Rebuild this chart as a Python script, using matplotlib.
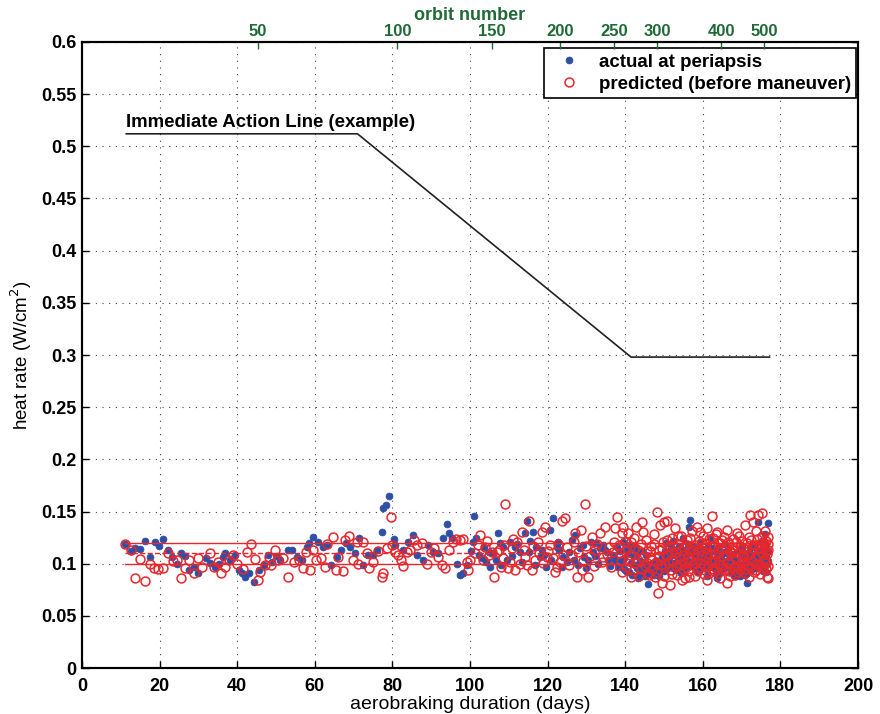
import matplotlib
matplotlib.use('Agg')
import matplotlib.pyplot as plt
import numpy as np

plt.rcParams['font.family'] = ['Liberation Sans', 'DejaVu Sans']

# actual heat rate at periapsis (day, W/cm2)
actual_early = [
    (11.2, .1186), (12.6, .1125), (13.7, .1154), (15.0, .114), (16.3, .1218), (17.4, .106),
    (18.7, .121), (19.8, .117), (21.0, .1234), (22.2, .113), (23.2, .1067), (24.5, .100),
    (25.5, .1105), (26.6, .1074), (27.7, .094), (28.8, .097), (29.8, .0908), (32.0, .105),
    (33.1, .101), (34.2, .097), (35.2, .100), (36.3, .106), (36.9, .1105), (38.2, .1035),
    (39.4, .108), (40.4, .094), (41.2, .0908), (42.1, .0876), (43.0, .0908), (44.4, .0828),
    (45.5, .094), (46.8, .0988), (47.9, .108), (49.0, .102), (50.3, .107), (51.1, .1035),
]
actual_mid = [
    (53.2, .113), (54.0, .113), (55.3, .1067), (56.6, .1035), (57.9, .1163), (58.6, .1195),
    (59.5, .126), (60.9, .121), (62.0, .1163), (63.1, .118), (64.3, .0988), (65.6, .1067),
    (66.8, .113), (68.0, .1195), (69.1, .1163), (70.4, .1105), (71.5, .1243), (72.5, .0988),
    (73.8, .108), (75.1, .108), (76.0, .113), (77.2, .1307), (77.7, .153), (78.4, .156),
    (79.0, .165), (80.3, .1234), (80.7, .118), (82.8, .113), (84.0, .121), (85.2, .1275),
    (86.3, .108), (88.0, .104), (89.3, .118), (90.5, .1115), (91.8, .110), (93.0, .1243),
    (94.0, .1378), (94.6, .1297), (95.3, .1243), (96.6, .100), (97.4, .089), (98.3, .0908),
    (99.2, .0988),
    (100.9, .121), (101.0, .1457), (101.5, .1243), (103.0, .105), (104.1, .102), (105.2, .097),
    (106.0, .110), (107.3, .1297), (107.7, .1195), (108.6, .1163), (109.5, .1035), (110.3, .121),
    (111.6, .1163), (112.9, .1115), (114.2, .129), (114.6, .141), (115.5, .122), (116.2, .1307),
    (117.0, .1163), (118.0, .1067), (119.6, .097), (120.6, .1323), (121.5, .1435), (122.3, .1163),
    (123.0, .113), (124.0, .1067), (124.9, .102), (126.2, .1227), (127.1, .1275), (128.4, .1148),
    (129.4, .1067), (130.5, .1035), (131.6, .1115), (132.6, .1195), (133.5, .1148), (134.8, .113),
    (135.6, .1035), (136.8, .108), (137.8, .1163), (138.2, .097),
    (100.3, .112), (102.4, .108), (103.6, .116), (104.8, .111), (106.6, .104), (108.1, .099),
    (110.8, .107), (112.2, .119), (113.5, .102), (115.1, .111), (116.7, .099), (118.6, .113),
    (119.1, .108), (121.0, .104), (122.7, .121), (123.6, .097), (125.6, .111), (126.7, .104),
    (127.9, .099), (129.0, .118), (130.0, .096), (131.1, .121), (132.1, .107), (133.0, .100),
    (134.2, .118), (135.2, .111), (136.2, .098), (137.3, .104),
]
actual_late = [
    (138.6, .112), (139.0, .098), (139.4, .121), (139.8, .105), (140.2, .093), (140.6, .110),
    (141.0, .118), (141.4, .101), (141.8, .089), (142.2, .107), (142.6, .115), (143.0, .096),
    (143.4, .086), (143.8, .103), (144.2, .112), (144.6, .094), (145.0, .099), (145.4, .108),
    (145.9, .081), (146.2, .097), (146.6, .095), (147.0, .101), (147.3, .094), (147.7, .098),
    (148.0, .092), (148.4, .103), (148.8, .096), (149.1, .099), (149.5, .106), (149.9, .093),
    (150.2, .112), (150.6, .120), (151.0, .104), (151.3, .097), (151.7, .115), (152.0, .108),
    (152.4, .122), (152.7, .101), (153.1, .094), (153.4, .110), (153.8, .117), (154.1, .099),
    (154.5, .106), (154.8, .125), (155.2, .113), (155.5, .096), (155.9, .104), (156.2, .119),
    (156.5, .1355), (156.7, .142), (157.0, .111), (157.3, .102), (157.7, .097), (158.0, .108),
    (158.3, .115), (158.7, .092), (159.0, .104), (159.3, .121), (159.7, .110), (160.0, .099),
    (160.3, .106), (160.6, .113), (161.0, .095), (161.3, .118), (161.6, .108), (161.9, .1243),
    (162.2, .101), (162.5, .097), (162.8, .112), (163.1, .104), (163.4, .093), (163.6, .086),
    (163.9, .109), (164.2, .116), (164.5, .100), (164.8, .107), (165.1, .095), (165.4, .111),
    (165.7, .119), (166.0, .103), (166.3, .098), (166.6, .114), (166.9, .106), (167.2, .092),
    (167.5, .101), (167.8, .109), (168.1, .096), (168.4, .088), (168.7, .104), (169.0, .112),
    (169.3, .098), (169.6, .093), (169.9, .107), (170.2, .115), (170.5, .100), (170.8, .089),
    (171.1, .097), (171.3, .0812), (171.6, .105), (171.9, .111), (172.2, .099), (172.5, .094),
    (172.8, .108), (173.1, .118), (173.4, .102), (173.7, .096), (174.0, .113), (174.3, .140),
    (174.6, .109), (174.9, .121), (175.2, .104), (175.5, .098), (175.8, .116), (176.1, .128),
    (176.4, .107), (176.7, .112), (176.9, .1387), (176.5, .101), (176.2, .092),
    (138.9, .104), (139.6, .095), (140.4, .114), (141.1, .092), (141.9, .117), (142.4, .099),
    (143.1, .109), (143.7, .091), (144.4, .102), (145.2, .088), (145.7, .093), (146.4, .090),
    (146.9, .099), (147.5, .089), (148.2, .097), (148.6, .088), (149.3, .094), (149.7, .101),
    (150.4, .096), (150.9, .109), (151.5, .102), (152.2, .096), (152.9, .113), (153.6, .104),
    (154.3, .091), (155.0, .101), (155.7, .109), (156.4, .098), (157.2, .117), (157.9, .100),
    (158.5, .106), (159.2, .095), (159.9, .114), (160.5, .101), (161.2, .088), (161.8, .104),
    (162.4, .115), (163.0, .098), (163.7, .105), (164.3, .091), (165.0, .102), (165.6, .097),
    (166.2, .110), (166.8, .099), (167.4, .095), (168.0, .103), (168.6, .093), (169.1, .100),
    (169.7, .088), (170.3, .094), (170.9, .105), (171.5, .091), (172.1, .102), (172.6, .116),
    (173.2, .097), (173.8, .106), (174.4, .099), (175.0, .111), (175.6, .093), (176.3, .118),
    (176.8, .103),
]

# predicted heat rate before maneuver (day, W/cm2)
predicted_early = [
    (11.2, .119), (12.6, .113), (13.7, .0866), (15.0, .1045), (16.3, .0834), (17.6, .100),
    (18.5, .0956), (19.6, .0946), (20.9, .0956), (22.2, .110), (23.4, .1026), (24.5, .1035),
    (25.5, .0866), (26.6, .0956), (27.7, .104), (28.8, .0908), (29.9, .105), (30.9, .0965),
    (32.9, .1105), (34.0, .0965), (35.1, .102), (35.9, .0914), (36.9, .0965), (37.8, .1035),
    (38.9, .108), (39.9, .100), (41.5, .0946), (42.5, .1115), (43.6, .1186), (44.5, .1045),
    (45.3, .0844), (46.0, .0923), (47.1, .0988), (48.1, .1067), (48.8, .0988), (49.7, .113),
    (50.5, .1035),
]
predicted_mid = [
    (51.9, .105), (53.2, .0876), (54.6, .102), (55.8, .1035), (56.9, .0956), (57.7, .1115),
    (58.8, .094), (59.6, .113), (60.3, .1035), (61.6, .105), (62.5, .0965), (63.2, .119),
    (64.6, .126), (65.5, .094), (66.1, .1067), (67.3, .093), (67.8, .1227), (68.8, .1266),
    (69.8, .1035), (70.8, .121), (71.2, .100), (72.3, .121), (73.4, .1105), (74.0, .0956),
    (75.1, .102), (76.2, .1125), (77.2, .0876), (77.7, .0914), (78.5, .1148), (79.6, .1445),
    (79.8, .118), (80.7, .1115), (81.5, .108), (82.2, .1035), (82.8, .098), (83.7, .1115),
    (84.5, .113), (85.6, .1227), (86.4, .118), (87.5, .1195), (88.8, .100), (90.0, .1115),
    (90.8, .1148), (91.8, .1067), (92.7, .0988), (93.6, .0956), (94.7, .113), (95.7, .121),
    (96.4, .1234), (97.4, .1227), (98.3, .1234), (99.3, .102),
    (99.6, .094), (100.0, .1035), (102.1, .118), (102.6, .1275), (103.9, .1163), (105.0, .108),
    (105.6, .1115), (106.3, .0876), (106.9, .1115), (107.9, .097), (108.4, .105), (109.0, .157),
    (109.9, .0956), (110.8, .1148), (111.6, .094), (112.2, .121), (112.9, .100), (113.3, .1307),
    (114.2, .1067), (115.3, .1405), (115.9, .094), (116.8, .1035), (117.4, .121), (118.5, .1307),
    (119.3, .1355), (119.9, .1067), (120.6, .118), (121.9, .0923), (122.3, .097), (123.2, .102),
    (123.6, .141), (124.5, .1435), (125.1, .1163), (126.2, .108), (127.1, .129), (127.5, .0876),
    (128.5, .1323), (128.8, .094), (129.6, .157), (130.5, .0876), (131.4, .126), (132.2, .113),
    (133.5, .129), (134.2, .1067), (134.8, .1355), (135.9, .1163), (136.9, .1115), (137.4, .134),
    (137.8, .145),
    (101.2, .110), (103.3, .104), (104.5, .122), (107.4, .113), (108.8, .118), (110.3, .102),
    (111.2, .124), (113.8, .113), (114.7, .099), (116.3, .117), (117.8, .110), (118.9, .101),
    (120.2, .112), (121.3, .105), (122.8, .119), (124.0, .108), (125.6, .099), (126.7, .121),
    (127.9, .111), (129.2, .103), (130.0, .117), (130.9, .107), (131.9, .098), (132.8, .119),
    (133.9, .102), (135.3, .109), (136.4, .097), (137.0, .121),
]
predicted_late = [
    (138.4, .118), (138.8, .103), (139.1, .129), (139.5, .1355), (139.9, .112), (140.3, .097),
    (140.8, .129), (141.2, .108), (141.6, .121), (142.0, .093), (142.4, .115), (142.8, .1355),
    (143.2, .104), (143.6, .088), (144.0, .119), (144.2, .140), (144.7, .1307), (145.1, .098),
    (145.5, .112), (145.9, .091), (146.3, .106), (146.7, .117), (147.0, .095), (147.3, .1285),
    (147.7, .087), (148.0, .102), (148.3, .150), (148.5, .0716), (148.8, .113), (149.0, .137),
    (149.4, .0812), (149.7, .121), (149.9, .140), (150.2, .099), (150.5, .108), (150.9, .141),
    (151.2, .117), (151.5, .0796), (151.8, .094), (152.1, .125), (152.4, .103), (152.8, .134),
    (153.1, .111), (153.4, .089), (153.7, .119), (154.0, .100), (154.3, .127), (154.6, .0844),
    (154.9, .108), (155.2, .116), (155.4, .086), (155.7, .097), (156.0, .123), (156.3, .105),
    (156.5, .0876), (156.8, .114), (157.1, .131), (157.4, .099), (157.7, .109), (158.0, .118),
    (158.4, .1355), (158.7, .093), (159.0, .112), (159.3, .1307), (159.6, .101), (159.9, .120),
    (160.2, .090), (160.5, .115), (160.8, .106), (161.0, .134), (161.0, .0844), (161.3, .098),
    (161.6, .124), (161.9, .109), (162.3, .1457), (162.5, .095), (162.8, .117), (163.1, .103),
    (163.4, .128), (163.6, .1307), (163.9, .091), (164.2, .111), (164.5, .120), (164.8, .099),
    (165.1, .107), (165.4, .126), (165.7, .094), (166.0, .115), (166.2, .1323), (166.2, .0812),
    (166.5, .102), (166.8, .119), (167.1, .088), (167.4, .110), (167.7, .124), (168.0, .097),
    (168.3, .113), (168.6, .105), (168.9, .129), (169.2, .092), (169.5, .117), (169.8, .101),
    (170.1, .122), (170.4, .108), (170.7, .095), (170.9, .137), (171.2, .114), (171.5, .099),
    (171.8, .126), (172.0, .087), (172.2, .1467), (172.5, .111), (172.8, .103), (173.0, .140),
    (173.3, .118), (173.6, .094), (173.9, .124), (174.1, .107), (174.3, .1467), (174.6, .115),
    (174.9, .098), (175.2, .149), (175.4, .121), (175.7, .104), (176.0, .131), (176.2, .112),
    (176.5, .0876), (176.7, .119), (176.9, .086), (176.8, .126), (176.4, .101), (176.6, .109),
    (176.3, .095),
    (138.6, .110), (139.3, .092), (140.0, .121), (140.6, .103), (141.4, .087), (142.2, .125),
    (142.6, .101), (143.4, .113), (144.1, .095), (144.5, .106), (145.3, .123), (145.7, .101),
    (146.1, .089), (146.5, .112), (146.9, .104), (147.5, .119), (148.1, .092), (148.6, .107),
    (149.2, .099), (149.6, .114), (150.0, .088), (150.7, .123), (151.0, .102), (151.7, .111),
    (152.0, .090), (152.6, .117), (153.0, .098), (153.5, .127), (153.9, .106), (154.4, .112),
    (154.8, .095), (155.3, .102), (155.9, .118), (156.2, .093), (156.6, .125), (157.0, .104),
    (157.5, .113), (157.9, .088), (158.2, .101), (158.9, .122), (159.2, .097), (159.7, .108),
    (160.0, .127), (160.4, .099), (160.7, .119), (161.1, .110), (161.5, .091), (161.8, .117),
    (162.1, .102), (162.6, .125), (163.0, .093), (163.3, .109), (163.8, .120), (164.0, .100),
    (164.4, .086), (164.7, .114), (165.0, .123), (165.3, .096), (165.9, .108), (166.4, .121),
    (166.7, .093), (167.0, .112), (167.3, .100), (167.9, .116), (168.2, .089), (168.5, .121),
    (168.8, .098), (169.1, .110), (169.4, .127), (169.7, .094), (170.0, .106), (170.3, .115),
    (170.6, .102), (171.0, .091), (171.3, .120), (171.6, .108), (172.1, .097), (172.4, .123),
    (172.7, .115), (173.1, .092), (173.4, .106), (173.7, .131), (174.0, .100), (174.4, .119),
    (174.7, .090), (175.0, .111), (175.3, .127), (175.6, .096), (175.9, .115), (176.1, .104),
    (176.4, .122), (176.8, .098), (176.9, .113),
]

# immediate action line (example)
action_days = [11.4, 71.0, 141.5, 177.2]
action_rate = [0.512, 0.512, 0.298, 0.298]

# red reference band
band_days = [11.0, 177.0]
band_levels = [0.12, 0.10]
band_mid = 0.11

# top axis: orbit number vs. day
orbit_labels = ['50', '100', '150', '200', '250', '300', '400', '500']
orbit_days = [45.4, 81.3, 105.6, 123.3, 137.1, 148.2, 164.7, 175.8]

xticks = np.arange(0, 201, 20)
yticks = np.arange(0, 0.61, 0.05)
ytick_labels = ['0', '0.05', '0.1', '0.15', '0.2', '0.25', '0.3', '0.35', '0.4',
                '0.45', '0.5', '0.55', '0.6']

blue = '#2f4fa6'
red = '#e8272c'
green = '#1f6a36'

fig = plt.figure(figsize=(8.8, 7.14), dpi=100)
ax = fig.add_axes([0.0932, 0.0644, 0.8818, 0.8768])

a_d, a_r = zip(*(actual_early + actual_mid + actual_late))
p_d, p_r = zip(*(predicted_early + predicted_mid + predicted_late))

ax.plot(a_d, a_r, 'o', ms=5, mfc=blue, mec=blue, mew=0.5, zorder=3,
        label='actual at periapsis')
ax.plot(p_d, p_r, 'o', ms=6.4, mfc='none', mec=red, mew=1.1, zorder=4,
        label='predicted (before maneuver)')

for lev in band_levels:
    ax.plot(band_days, [lev, lev], '-', color=red, lw=1.0, zorder=5)
ax.plot(band_days, [band_mid, band_mid], '--', color=red, lw=1.0, zorder=5)

ax.plot(action_days, action_rate, '-', color='#222222', lw=1.2, zorder=5)
ax.text(action_days[0], action_rate[0] + 0.003, 'Immediate Action Line (example)',
        fontsize=13.4, fontweight='bold', ha='left', va='bottom')

ax.set_xlim(0, 200)
ax.set_ylim(0, 0.6)
ax.set_xticks(xticks)
ax.set_xticklabels([str(v) for v in xticks], fontweight='bold', fontsize=13)
ax.set_yticks(yticks)
ax.set_yticklabels(ytick_labels, fontweight='bold', fontsize=13)
ax.tick_params(direction='in', length=5, width=1, top=False, right=True)
ax.tick_params(axis='x', pad=7)
ax.tick_params(axis='y', pad=4)
ax.grid(True, linestyle=(0, (1, 5)), color='#444444', linewidth=0.8)
for s in ax.spines.values():
    s.set_linewidth(1.5)

ax.set_xlabel('aerobraking duration (days)', fontsize=14, labelpad=1)
ax.set_ylabel('heat rate (W/cm$^2$)', fontsize=13.5, labelpad=5)

ax2 = ax.twiny()
ax2.set_xlim(0, 200)
ax2.set_xticks(orbit_days)
ax2.set_xticklabels(orbit_labels, fontweight='bold', fontsize=12, color=green)
ax2.tick_params(axis='x', direction='in', length=5, width=1, color=green, pad=2)
ax2.set_xlabel('orbit number', fontsize=13, fontweight='bold', color=green, labelpad=3)
for s in ax2.spines.values():
    s.set_linewidth(1.5)

leg = ax.legend(loc='upper right', bbox_to_anchor=(0.998, 0.99), borderaxespad=0,
                fancybox=False, edgecolor='k', framealpha=1,
                prop={'weight': 'bold', 'size': 13.5}, handletextpad=0.6,
                borderpad=0.3, labelspacing=0.25, numpoints=1)
leg.get_frame().set_linewidth(1.2)

fig.savefig('out.png', dpi=100)
